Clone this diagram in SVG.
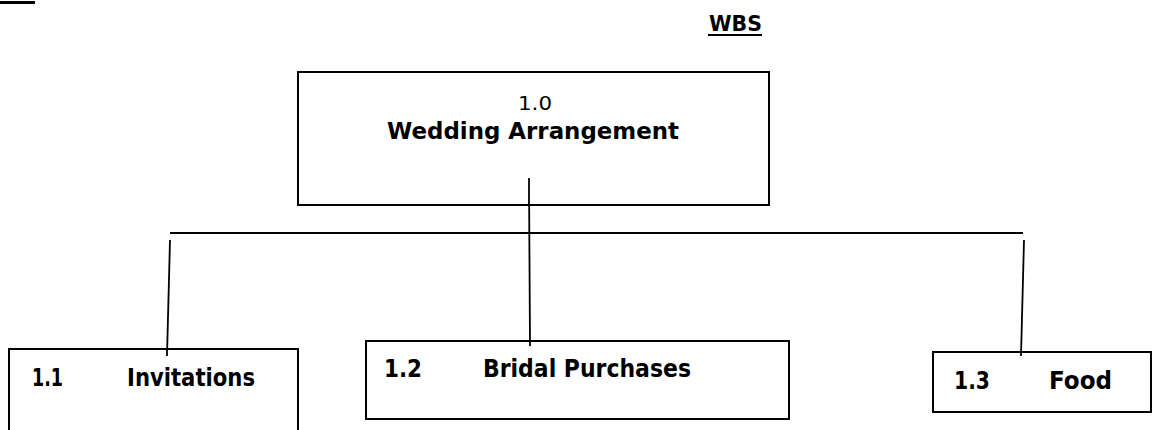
<svg xmlns="http://www.w3.org/2000/svg" width="1153" height="430" viewBox="0 0 1153 430">
<style>
.box{fill:#fff;stroke:#000;stroke-width:2}
.ln{stroke:#000;stroke-width:1.8;fill:none}
.t{font-family:"DejaVu Sans","Liberation Sans",sans-serif;fill:#000}
.b{font-weight:bold}
</style>
<rect width="1153" height="430" fill="#fff"/>
<rect x="0" y="1" width="35" height="3" fill="#000"/>
<g id="title">
<text class="t b" x="709" y="31" font-size="22" textLength="53" lengthAdjust="spacingAndGlyphs">WBS</text>
<rect x="708" y="34" width="54" height="2" fill="#000"/>
</g>
<g id="connectors">
<line class="ln" x1="170" y1="233" x2="1023" y2="233"/>
<line class="ln" x1="529" y1="178" x2="530" y2="346"/>
<line class="ln" x1="170" y1="240" x2="167" y2="356"/>
<line class="ln" x1="1024" y1="240" x2="1021" y2="356"/>
</g>
<g id="n10">
<rect class="box" x="298" y="72" width="471" height="133"/>
<text class="t" x="518" y="110" font-size="20" textLength="34" lengthAdjust="spacingAndGlyphs">1.0</text>
<text class="t b" x="387" y="139" font-size="23" textLength="292" lengthAdjust="spacingAndGlyphs">Wedding Arrangement</text>
</g>
<line class="ln" x1="529" y1="178" x2="529" y2="205"/>
<g id="n11">
<rect class="box" x="9" y="349" width="289" height="100"/>
<text class="t b" x="32" y="386" font-size="24" textLength="31" lengthAdjust="spacingAndGlyphs">1.1</text>
<text class="t b" x="127" y="386" font-size="24" textLength="128" lengthAdjust="spacingAndGlyphs">Invitations</text>
</g>
<g id="n12">
<rect class="box" x="366" y="341" width="423" height="78"/>
<text class="t b" x="384" y="377" font-size="24" textLength="38" lengthAdjust="spacingAndGlyphs">1.2</text>
<text class="t b" x="483" y="377" font-size="24" textLength="208" lengthAdjust="spacingAndGlyphs">Bridal Purchases</text>
</g>
<g id="n13">
<rect class="box" x="933" y="352" width="218" height="60"/>
<text class="t b" x="954" y="389" font-size="24" textLength="36" lengthAdjust="spacingAndGlyphs">1.3</text>
<text class="t b" x="1049" y="389" font-size="24" textLength="63" lengthAdjust="spacingAndGlyphs">Food</text>
</g>
<g id="connector-tips">
<line class="ln" x1="167" y1="349" x2="167" y2="356"/>
<line class="ln" x1="530" y1="341" x2="530" y2="346"/>
<line class="ln" x1="1021" y1="352" x2="1021" y2="356"/>
</g>
</svg>
